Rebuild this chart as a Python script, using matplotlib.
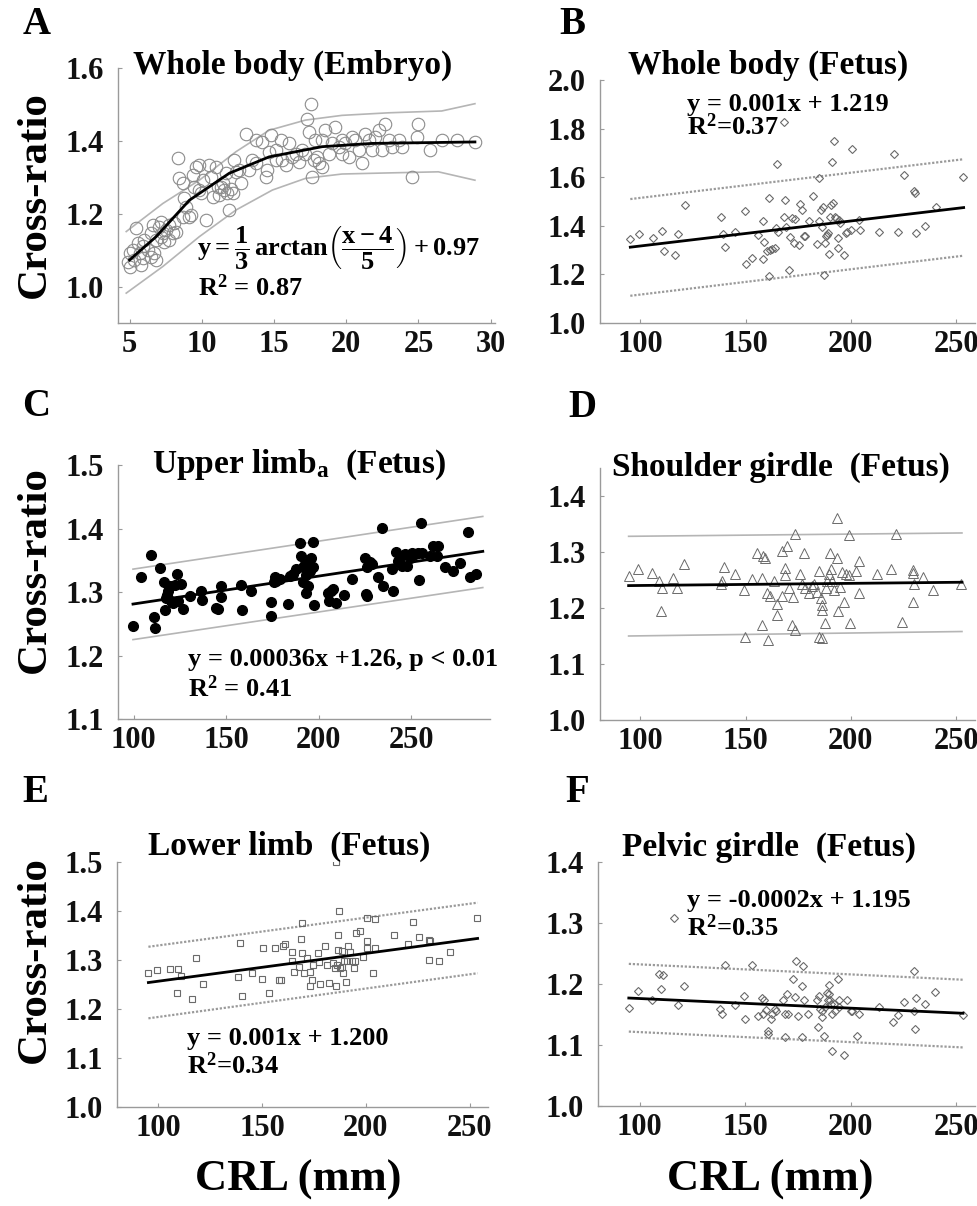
import matplotlib
matplotlib.use("Agg")
import matplotlib.pyplot as plt

plt.rcParams['font.family'] = ['Liberation Serif', 'DejaVu Serif']
plt.rcParams['mathtext.fontset'] = 'custom'
plt.rcParams['mathtext.rm'] = 'Liberation Serif:bold'
plt.rcParams['mathtext.it'] = 'Liberation Serif:bold'
plt.rcParams['mathtext.bf'] = 'Liberation Serif:bold'

# ---------------- data ----------------
# A: whole body (embryo), CRL in mm
a_crl = [4.89, 5.0, 5.23, 5.57, 5.46, 5.69, 5.92, 6.03, 5.80, 6.26, 6.49, 6.61, 6.72, 6.84,
         7.07, 7.18, 7.30, 7.41, 7.53, 7.76, 7.99, 8.22, 8.33, 8.45, 8.68, 8.79, 8.91, 9.14,
         9.25, 9.37, 9.48, 9.60, 9.83, 9.94, 10.06, 10.29, 10.52, 10.63, 10.98, 11.09, 11.21,
         11.44, 11.55, 11.67, 11.90, 12.01, 12.13, 12.24, 12.36, 12.70, 13.05, 13.28, 13.51,
         13.74, 14.20, 14.43, 14.54, 14.66, 14.77, 15.11, 15.46, 15.57, 15.80, 16.03, 16.26,
         16.49, 16.72, 16.95, 17.18, 17.30, 17.41, 17.64, 17.76, 17.87, 17.99, 18.10, 18.33,
         18.56, 18.79, 19.02, 19.25, 19.48, 19.71, 19.94, 20.17, 20.40, 20.63, 20.86, 21.09,
         21.32, 21.55, 21.78, 22.01, 22.24, 22.47, 22.70, 22.93, 23.16, 23.62, 23.85, 24.54,
         24.89, 25.00, 25.80, 26.61, 27.64, 28.91, 7.76, 8.10, 8.68, 9.83, 10.75, 11.32, 11.78,
         12.59, 13.74, 15.11, 18.33, 19.71, 5.0, 5.34, 5.92, 6.49, 6.84, 7.18, 17.53]
a_ratio = [1.068, 1.091, 1.100, 1.119, 1.160, 1.091, 1.110, 1.128, 1.059, 1.100, 1.146, 1.169,
           1.091, 1.128, 1.164, 1.178, 1.146, 1.123, 1.155, 1.169, 1.146, 1.151, 1.352, 1.297,
           1.283, 1.242, 1.219, 1.192, 1.196, 1.306, 1.274, 1.329, 1.333, 1.256, 1.292, 1.183,
           1.333, 1.301, 1.329, 1.274, 1.251, 1.283, 1.265, 1.311, 1.210, 1.269, 1.256, 1.347,
           1.315, 1.283, 1.420, 1.320, 1.347, 1.338, 1.397, 1.301, 1.320, 1.370, 1.416, 1.374,
           1.402, 1.347, 1.333, 1.393, 1.356, 1.365, 1.342, 1.374, 1.365, 1.461, 1.425, 1.301,
           1.347, 1.402, 1.356, 1.338, 1.329, 1.429, 1.365, 1.393, 1.438, 1.384, 1.365, 1.393,
           1.356, 1.411, 1.402, 1.374, 1.338, 1.420, 1.402, 1.374, 1.411, 1.429, 1.374, 1.447,
           1.402, 1.384, 1.402, 1.384, 1.301, 1.411, 1.447, 1.374, 1.402, 1.402, 1.397, 1.128,
           1.174, 1.192, 1.265, 1.247, 1.274, 1.256, 1.320, 1.402, 1.347, 1.402, 1.402, 1.055,
           1.073, 1.078, 1.082, 1.073, 1.137, 1.502]
a_fit_x = [5.0, 6.84, 9.14, 11.90, 14.66, 18.33, 21.78, 28.91]
a_fit_y = [1.073, 1.137, 1.237, 1.311, 1.356, 1.384, 1.393, 1.397]
a_up_x = [4.77, 7.30, 9.83, 12.36, 14.66, 17.18, 19.71, 22.93, 26.61, 28.91]
a_up_y = [1.151, 1.228, 1.292, 1.370, 1.429, 1.457, 1.470, 1.477, 1.482, 1.502]
a_lo_x = [4.77, 7.30, 9.83, 12.36, 14.89, 17.18, 19.71, 22.93, 26.38, 28.91]
a_lo_y = [0.982, 1.055, 1.137, 1.210, 1.265, 1.297, 1.309, 1.312, 1.315, 1.292]

# B: whole body (fetus)
b_crl = [95.2, 99.2, 106.1, 110.4, 111.2, 116.5, 118.1, 121.3, 138.4, 139.2, 140.3, 145.1,
         149.6, 150.2, 153.1, 156.0, 158.4, 158.4, 158.9, 160.0, 161.1, 161.1, 161.6, 162.7,
         164.0, 164.3, 165.1, 165.3, 168.0, 168.8, 169.1, 170.4, 171.2, 172.0, 172.8, 173.6,
         175.2, 176.0, 176.8, 177.6, 178.1, 180.0, 182.1, 184.0, 184.8, 185.1, 185.6, 186.4,
         186.7, 187.2, 187.7, 188.3, 188.8, 189.3, 189.6, 189.9, 190.4, 190.9, 191.5, 192.2,
         192.5, 193.1, 193.8, 194.1, 194.4, 194.7, 196.8, 197.6, 198.4, 200.0, 200.5, 204.0,
         204.3, 213.3, 220.3, 222.4, 225.3, 230.1, 230.4, 230.9, 235.2, 240.5, 253.3, 168.0]
b_ratio = [1.345, 1.366, 1.351, 1.379, 1.297, 1.278, 1.367, 1.486, 1.438, 1.368, 1.312, 1.373,
           1.462, 1.242, 1.267, 1.363, 1.264, 1.418, 1.332, 1.295, 1.516, 1.192, 1.299, 1.305,
           1.308, 1.390, 1.653, 1.373, 1.438, 1.507, 1.395, 1.219, 1.353, 1.432, 1.329, 1.427,
           1.322, 1.489, 1.466, 1.359, 1.356, 1.421, 1.521, 1.326, 1.596, 1.421, 1.463, 1.397,
           1.479, 1.199, 1.329, 1.356, 1.363, 1.370, 1.284, 1.438, 1.486, 1.664, 1.493, 1.751,
           1.438, 1.432, 1.349, 1.310, 1.425, 1.411, 1.281, 1.370, 1.373, 1.384, 1.715, 1.425,
           1.381, 1.374, 1.696, 1.375, 1.610, 1.545, 1.537, 1.370, 1.400, 1.479, 1.599, 1.829]
b_fit_x = [95.2, 253.6]
b_fit_y = [1.312, 1.475]
b_up_y = [1.510, 1.674]
b_lo_y = [1.112, 1.277]

# C: upper limb (fetus)
c_crl = [99.6, 104.1, 109.2, 111.0, 111.4, 114.1, 116.2, 116.8, 117.7, 118.0, 118.6, 119.5,
         120.4, 121.3, 122.2, 123.4, 124.0, 125.8, 126.7, 130.3, 136.6, 137.1, 144.3, 145.6,
         147.0, 147.4, 158.2, 158.7, 163.6, 173.9, 174.1, 175.7, 176.2, 177.1, 178.9, 183.4,
         184.3, 186.1, 187.6, 189.7, 190.3, 191.2, 191.5, 192.4, 193.0, 193.3, 194.2, 195.1,
         196.0, 196.6, 196.9, 197.3, 205.0, 205.6, 206.8, 207.7, 209.5, 213.5, 217.7, 224.9,
         225.4, 225.8, 226.1, 227.6, 229.0, 232.1, 234.4, 234.8, 239.3, 240.2, 241.6, 242.9,
         243.8, 244.7, 246.5, 247.4, 249.2, 250.1, 251.9, 253.7, 254.2, 255.0, 255.5, 260.0,
         261.8, 263.6, 264.5, 268.1, 272.6, 276.2, 280.7, 281.6, 285.2]
c_ratio = [1.246, 1.323, 1.358, 1.260, 1.243, 1.338, 1.315, 1.272, 1.291, 1.296, 1.302, 1.310,
           1.286, 1.283, 1.311, 1.328, 1.286, 1.312, 1.274, 1.294, 1.302, 1.287, 1.275, 1.274,
           1.292, 1.310, 1.311, 1.271, 1.301, 1.284, 1.262, 1.315, 1.323, 1.317, 1.320, 1.281,
           1.325, 1.328, 1.336, 1.377, 1.357, 1.315, 1.339, 1.344, 1.299, 1.327, 1.310, 1.333,
           1.354, 1.378, 1.340, 1.279, 1.299, 1.286, 1.302, 1.304, 1.283, 1.296, 1.320, 1.354,
           1.297, 1.339, 1.294, 1.347, 1.344, 1.323, 1.401, 1.310, 1.336, 1.302, 1.363, 1.349,
           1.354, 1.341, 1.360, 1.341, 1.354, 1.361, 1.360, 1.362, 1.319, 1.408, 1.362, 1.357,
           1.373, 1.357, 1.373, 1.339, 1.333, 1.346, 1.395, 1.324, 1.328]
c_fit_x = [99.6, 288.6]
c_fit_y = [1.281, 1.364]
c_up_y = [1.336, 1.419]
c_lo_y = [1.225, 1.307]

# D: shoulder girdle (fetus)
d_crl = [94.7, 98.9, 105.6, 108.8, 110.4, 109.6, 115.7, 117.6, 120.8, 138.1, 139.7, 138.7,
         144.8, 149.3, 149.6, 152.8, 155.5, 157.6, 158.4, 159.2, 157.6, 160.0, 160.8, 161.6,
         163.5, 164.8, 164.8, 167.2, 167.2, 168.8, 168.8, 169.6, 170.7, 172.3, 172.0, 173.6,
         173.6, 176.0, 176.8, 177.6, 178.4, 180.0, 181.6, 182.4, 184.0, 184.8, 185.1, 185.6,
         186.1, 186.4, 186.4, 187.7, 188.0, 188.8, 189.6, 189.9, 190.4, 191.2, 192.0, 193.6,
         193.6, 194.1, 194.9, 196.0, 196.8, 197.9, 199.2, 199.2, 199.5, 202.4, 203.7, 203.7,
         212.3, 219.2, 221.3, 224.5, 229.6, 229.6, 230.1, 229.6, 234.4, 239.2, 252.5]
d_ratio = [1.258, 1.269, 1.262, 1.248, 1.235, 1.195, 1.254, 1.235, 1.278, 1.242, 1.274, 1.248,
           1.261, 1.233, 1.148, 1.251, 1.299, 1.254, 1.292, 1.290, 1.169, 1.226, 1.143, 1.221,
           1.248, 1.208, 1.187, 1.302, 1.221, 1.272, 1.259, 1.310, 1.236, 1.219, 1.170, 1.333,
           1.161, 1.260, 1.242, 1.298, 1.236, 1.227, 1.239, 1.242, 1.229, 1.149, 1.266, 1.218,
           1.206, 1.197, 1.147, 1.173, 1.236, 1.248, 1.260, 1.298, 1.269, 1.248, 1.232, 1.289,
           1.360, 1.194, 1.237, 1.265, 1.211, 1.261, 1.330, 1.259, 1.174, 1.266, 1.284, 1.226,
           1.260, 1.270, 1.333, 1.175, 1.268, 1.263, 1.243, 1.211, 1.256, 1.233, 1.243]
d_fit_x = [94.4, 252.8]
d_fit_y = [1.240, 1.246]
d_up_y = [1.328, 1.334]
d_lo_y = [1.150, 1.158]

# E: lower limb (fetus)
e_crl = [95.4, 99.4, 105.8, 109.8, 110.9, 109.3, 116.5, 118.3, 121.5, 138.6, 139.4, 140.5,
         145.4, 149.8, 150.3, 153.4, 156.3, 158.3, 159.0, 160.3, 161.1, 164.4, 164.6, 165.4,
         167.9, 168.6, 169.2, 169.4, 170.4, 171.5, 173.1, 173.1, 173.9, 174.7, 176.8, 177.6,
         177.9, 180.3, 181.4, 182.2, 184.0, 185.1, 185.4, 185.4, 185.9, 186.4, 186.7, 187.2,
         187.5, 188.3, 188.6, 189.1, 189.6, 190.2, 190.7, 191.2, 192.3, 193.1, 194.2, 194.7,
         195.0, 197.1, 198.4, 200.3, 200.6, 200.6, 203.2, 204.3, 204.6, 213.5, 220.4, 222.4,
         225.5, 230.4, 230.8, 230.4, 235.3, 240.4, 253.5]
e_ratio = [1.273, 1.280, 1.281, 1.281, 1.267, 1.232, 1.220, 1.305, 1.252, 1.266, 1.335, 1.227,
           1.274, 1.261, 1.324, 1.233, 1.325, 1.259, 1.259, 1.329, 1.333, 1.317, 1.297, 1.275,
           1.286, 1.343, 1.375, 1.314, 1.273, 1.305, 1.275, 1.247, 1.259, 1.290, 1.314, 1.295,
           1.252, 1.329, 1.290, 1.254, 1.293, 1.283, 1.246, 1.499, 1.290, 1.350, 1.320, 1.399,
           1.283, 1.319, 1.286, 1.273, 1.297, 1.256, 1.297, 1.329, 1.317, 1.297, 1.283, 1.297,
           1.356, 1.360, 1.307, 1.386, 1.339, 1.324, 1.273, 1.383, 1.324, 1.351, 1.332, 1.378,
           1.346, 1.341, 1.339, 1.300, 1.297, 1.316, 1.385]
e_fit_x = [95.4, 253.7]
e_fit_y = [1.254, 1.344]
e_up_y = [1.327, 1.417]
e_lo_y = [1.181, 1.273]

# F: pelvic girdle (fetus)
f_crl = [95.2, 99.2, 106.1, 109.1, 110.9, 110.1, 116.3, 118.1, 121.3, 138.1, 139.2, 140.3,
         145.1, 149.6, 150.2, 153.1, 156.0, 158.1, 158.4, 158.9, 160.0, 161.1, 161.1, 162.1,
         162.9, 164.0, 164.8, 168.0, 168.8, 169.1, 170.1, 170.4, 172.8, 173.6, 174.1, 175.2,
         177.1, 176.8, 177.6, 178.1, 180.0, 184.0, 184.8, 185.1, 185.6, 186.4, 186.7, 187.2,
         187.7, 188.8, 189.3, 189.6, 189.9, 190.4, 190.9, 191.2, 192.0, 192.8, 194.1, 194.4,
         194.7, 198.1, 200.0, 200.5, 203.2, 204.0, 213.3, 220.0, 222.4, 225.3, 230.1, 230.1,
         230.4, 230.9, 235.2, 240.0, 253.3, 191.2, 197.1]
f_ratio = [1.161, 1.189, 1.173, 1.217, 1.215, 1.191, 1.308, 1.166, 1.197, 1.159, 1.151, 1.231,
           1.166, 1.181, 1.143, 1.231, 1.148, 1.177, 1.151, 1.173, 1.157, 1.123, 1.118, 1.143,
           1.151, 1.159, 1.156, 1.173, 1.151, 1.113, 1.184, 1.151, 1.208, 1.178, 1.238, 1.148,
           1.113, 1.196, 1.230, 1.173, 1.151, 1.173, 1.129, 1.181, 1.159, 1.146, 1.156, 1.115,
           1.162, 1.186, 1.173, 1.184, 1.199, 1.173, 1.167, 1.151, 1.167, 1.156, 1.208, 1.162,
           1.173, 1.174, 1.156, 1.155, 1.115, 1.151, 1.163, 1.137, 1.150, 1.171, 1.222, 1.155,
           1.126, 1.177, 1.167, 1.187, 1.150, 1.090, 1.083]
f_fit_x = [94.9, 253.3]
f_fit_y = [1.177, 1.152]
f_up_y = [1.233, 1.207]
f_lo_y = [1.122, 1.096]

# ---------------- figure ----------------
W, H = 977, 1206
fig = plt.figure(figsize=(W / 100, H / 100), dpi=100)
fig.patch.set_facecolor('white')


def rect(l, r, t, b):
    return [l / W, 1 - b / H, (r - l) / W, (b - t) / H]


def style(ax, xlim, ylim, xticks, yticks):
    ax.set_xlim(*xlim)
    ax.set_ylim(*ylim)
    ax.set_xticks(xticks)
    ax.set_xticklabels(['{:g}'.format(t) for t in xticks], fontweight='bold')
    ax.set_yticks(yticks)
    ax.set_yticklabels(['{:.1f}'.format(t) for t in yticks], fontweight='bold')
    for s in ['top', 'right']:
        ax.spines[s].set_visible(False)
    for s in ['left', 'bottom']:
        ax.spines[s].set_color('#9a9a9a')
        ax.spines[s].set_linewidth(1.0)
    ax.tick_params(direction='in', length=3, width=0.8, color='#9a9a9a',
                   labelsize=22, labelcolor='#111111')
    ax.tick_params(axis='y', pad=10)
    ax.tick_params(axis='x', pad=5)
    ax.patch.set_alpha(0)


grey = '#6a6a6a'
band_dot = dict(color='#9a9a9a', lw=1.6, ls=(0, (1, 0.8)))
band_solid = dict(color='#b5b5b5', lw=1.2, ls='-')
fit_style = dict(color='black', lw=2.0)
title_kw = dict(fontsize=24, fontweight='bold', va='center', ha='left')
eq_kw = dict(fontsize=19, fontweight='bold', va='center', ha='left')

# A
axA = fig.add_axes(rect(118, 495, 68, 323))
style(axA, (4.2, 30.3), (0.9, 1.6), [5, 10, 15, 20, 25, 30], [1.0, 1.2, 1.4, 1.6])
axA.plot(a_up_x, a_up_y, **band_solid)
axA.plot(a_lo_x, a_lo_y, **band_solid)
axA.plot(a_crl, a_ratio, ls='none', marker='o', ms=9, mfc='none', mec='#8c8c8c', mew=0.8)
axA.plot(a_fit_x, a_fit_y, **fit_style)
fig.text(133 / W, 1 - 65 / H, 'Whole body (Embryo)', **title_kw)
fig.text(197 / W, 1 - 248 / H,
         r'$y = \dfrac{1}{3}\,\mathrm{arctan}\left(\dfrac{x-4}{5}\right) + 0.97$',
         fontsize=19, va='center', ha='left')
fig.text(198 / W, 1 - 288 / H, r'R$^{\mathregular{2}}$ = 0.87', **eq_kw)

# B
axB = fig.add_axes(rect(600, 975, 80, 323))
style(axB, (80.8, 259), (1.0, 2.0), [100, 150, 200, 250], [1.0, 1.2, 1.4, 1.6, 1.8, 2.0])
axB.plot(b_fit_x, b_up_y, **band_dot)
axB.plot(b_fit_x, b_lo_y, **band_dot)
axB.plot(b_crl, b_ratio, ls='none', marker='D', ms=4.2, mfc='none', mec=grey, mew=0.8)
axB.plot(b_fit_x, b_fit_y, **fit_style)
fig.text(628 / W, 1 - 65 / H, 'Whole body (Fetus)', **title_kw)
fig.text(687 / W, 1 - 104 / H, 'y = 0.001x + 1.219', **eq_kw)
fig.text(687 / W, 1 - 127 / H, r'R$^{\mathregular{2}}$=0.37', **eq_kw)

# C
axC = fig.add_axes(rect(118, 490, 465, 719))
style(axC, (91.5, 292.5), (1.1, 1.5), [100, 150, 200, 250], [1.1, 1.2, 1.3, 1.4, 1.5])
axC.plot(c_fit_x, c_up_y, **band_solid)
axC.plot(c_fit_x, c_lo_y, **band_solid)
axC.plot(c_crl, c_ratio, ls='none', marker='o', ms=7, mfc='black', mec='black')
axC.plot(c_fit_x, c_fit_y, **fit_style)
fig.text(152 / W, 1 - 465 / H, r'Upper limb$_{\mathregular{a}}$  (Fetus)', **title_kw)
fig.text(188 / W, 1 - 660 / H, 'y = 0.00036x +1.26, p < 0.01', **eq_kw)
fig.text(188 / W, 1 - 689 / H, r'R$^{\mathregular{2}}$ = 0.41', **eq_kw)

# D
axD = fig.add_axes(rect(600, 975, 468, 720))
style(axD, (80.8, 259), (1.0, 1.45), [100, 150, 200, 250], [1.0, 1.1, 1.2, 1.3, 1.4])
axD.plot(d_fit_x, d_up_y, **band_solid)
axD.plot(d_fit_x, d_lo_y, **band_solid)
axD.plot(d_crl, d_ratio, ls='none', marker='^', ms=7, mfc='none', mec=grey, mew=0.7)
axD.plot(d_fit_x, d_fit_y, **fit_style)
fig.text(612 / W, 1 - 467 / H, 'Shoulder girdle  (Fetus)', **title_kw)

# E
axE = fig.add_axes(rect(117, 488, 862, 1107))
style(axE, (80.3, 258.7), (1.0, 1.5), [100, 150, 200, 250], [1.0, 1.1, 1.2, 1.3, 1.4, 1.5])
axE.plot(e_fit_x, e_up_y, **band_dot)
axE.plot(e_fit_x, e_lo_y, **band_dot)
axE.plot(e_crl, e_ratio, ls='none', marker='s', ms=4.0, mfc='none', mec=grey, mew=0.8)
axE.plot(e_fit_x, e_fit_y, **fit_style)
fig.text(148 / W, 1 - 846 / H, 'Lower limb  (Fetus)', **title_kw)
fig.text(187 / W, 1 - 1038 / H, 'y = 0.001x + 1.200', **eq_kw)
fig.text(187 / W, 1 - 1066 / H, r'R$^{\mathregular{2}}$=0.34', **eq_kw)

# F
axF = fig.add_axes(rect(598, 975, 862, 1106))
style(axF, (80.3, 259), (1.0, 1.4), [100, 150, 200, 250], [1.0, 1.1, 1.2, 1.3, 1.4])
axF.plot(f_fit_x, f_up_y, **band_dot)
axF.plot(f_fit_x, f_lo_y, **band_dot)
axF.plot(f_crl, f_ratio, ls='none', marker='D', ms=4.2, mfc='none', mec=grey, mew=0.8)
axF.plot(f_fit_x, f_fit_y, **fit_style)
fig.text(622 / W, 1 - 847 / H, 'Pelvic girdle  (Fetus)', **title_kw)
fig.text(687 / W, 1 - 900 / H, 'y = -0.0002x + 1.195', **eq_kw)
fig.text(687 / W, 1 - 928 / H, r'R$^{\mathregular{2}}$=0.35', **eq_kw)

# panel letters and shared labels
for letter, x, y in [('A', 37, 25), ('B', 572, 25), ('C', 36, 406),
                     ('D', 582, 407), ('E', 35, 792), ('F', 577, 792)]:
    fig.text(x / W, 1 - y / H, letter, fontsize=28, fontweight='bold', ha='center', va='center')
for y in [195, 570, 960]:
    fig.text(35 / W, 1 - y / H, 'Cross-ratio', fontsize=31, fontweight='bold',
             rotation=90, ha='center', va='center')
for x in [298, 770]:
    fig.text(x / W, 1 - 1180 / H, 'CRL (mm)', fontsize=32, fontweight='bold',
             ha='center', va='center')

fig.savefig('out.png', dpi=100, facecolor='white')
